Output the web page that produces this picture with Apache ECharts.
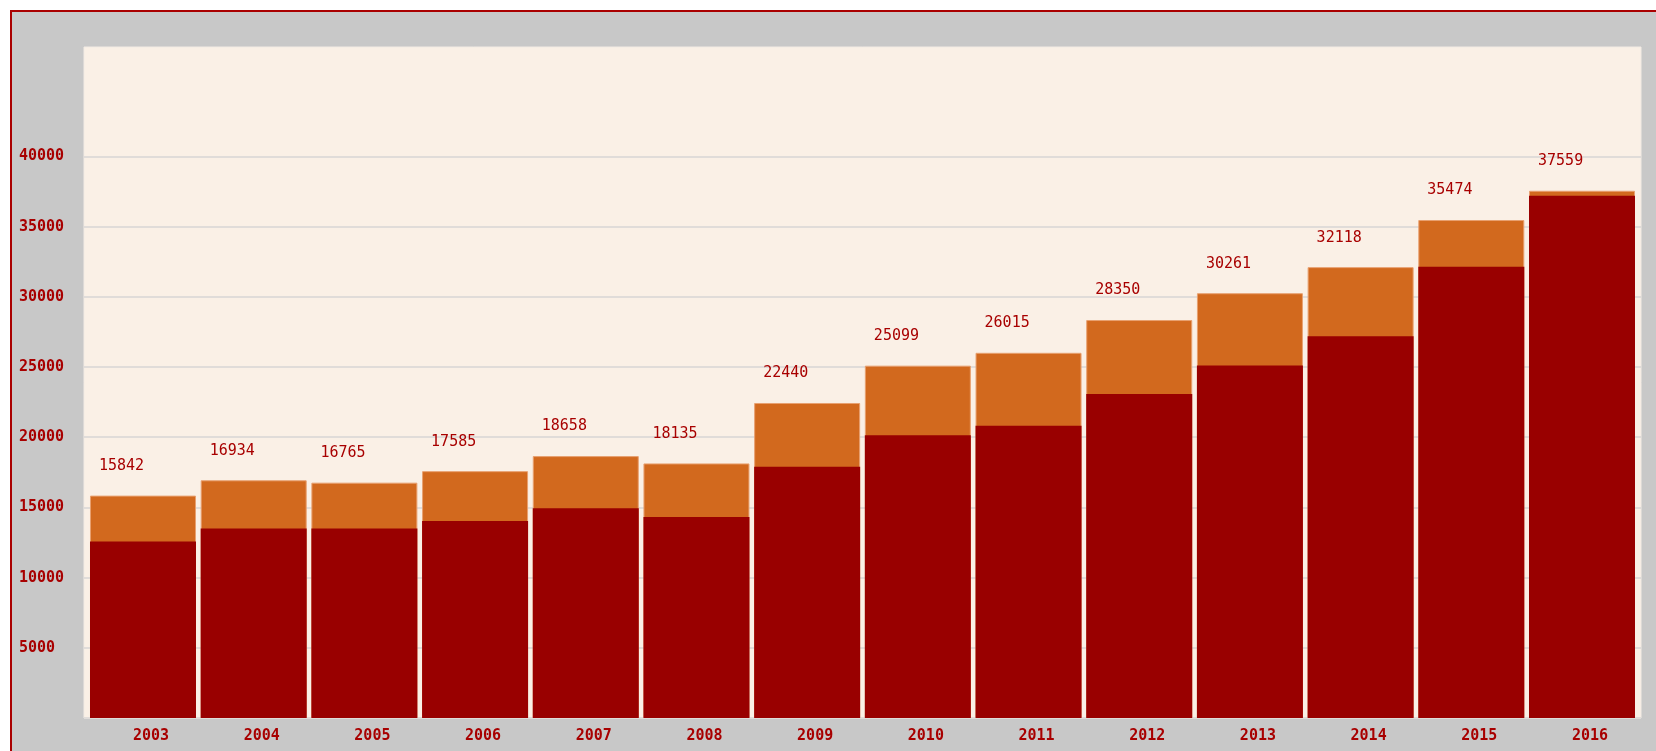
<!DOCTYPE html>
<html>
<head>
<meta charset="utf-8">
<title>Chart</title>
<script src="https://cdn.jsdelivr.net/npm/echarts@6/dist/echarts.min.js"></script>
<style>
  html, body { margin: 0; padding: 0; background: #ffffff; overflow: hidden; }
  #main {
    position: absolute; left: 10px; top: 10px;
    width: 1644px; height: 739px;
    border-left: 2px solid #aa0000; border-top: 2px solid #aa0000;
    background: #c8c8c8;
  }
</style>
</head>
<body>
<div id="main"></div>
<script>
// years on the x axis
var years = ['2003', '2004', '2005', '2006', '2007', '2008', '2009',
             '2010', '2011', '2012', '2013', '2014', '2015', '2016'];
// total (orange bar, labelled)
var totals = [15842, 16934, 16765, 17585, 18658, 18135, 22440,
              25099, 26015, 28350, 30261, 32118, 35474, 37559];
// inner part (dark red bar, drawn over the total)
var inner = [12570, 13500, 13500, 14040, 14950, 14310, 17900,
             20150, 20820, 23080, 25110, 27200, 32140, 37200];

var yMax = 47800;      // top of the cream area
var yTickMax = 40000;  // highest ruled line
var yStep = 5000;
var textRed = '#a80000';
var monoFont = '"DejaVu Sans Mono", "Liberation Mono", monospace';

function drawChart() {
  var chartDom = document.getElementById('main');
  var myChart = echarts.init(chartDom);
  var option;
  var plotTop = 35, plotH = 671;
  // the ruled part only goes up to 40000
  var ruleTop = plotTop + plotH * (yMax - yTickMax) / yMax;
  option = {
    animation: false,
    grid: [
      // cream plotting area
      { left: 72, top: plotTop, width: 1557, height: plotH, show: true,
        backgroundColor: '#faf0e6', borderColor: '#f2ebe4', borderWidth: 1 },
      // bars sit a little inside it
      { left: 75.65, top: plotTop, width: 1549.7, height: plotH },
      // ruled lines + value labels
      { left: 72, top: ruleTop, width: 1557, height: plotTop + plotH - ruleTop }
    ],
    xAxis: [
      { gridIndex: 0, type: 'category', data: years, show: false },
      {
        gridIndex: 1, type: 'category', data: years,
        axisLine: { show: false }, axisTick: { show: false },
        axisLabel: {
          color: textRed, fontFamily: monoFont, fontSize: 15, fontWeight: 'bold',
          margin: 11, padding: [0, 0, 0, 16]
        }
      },
      { gridIndex: 2, type: 'category', data: years, show: false }
    ],
    yAxis: [
      { gridIndex: 0, type: 'value', min: 0, max: yMax, show: false, splitLine: { show: false } },
      { gridIndex: 1, type: 'value', min: 0, max: yMax, show: false, splitLine: { show: false } },
      {
        gridIndex: 2, type: 'value', min: 0, max: yTickMax, interval: yStep,
        axisLine: { show: false }, axisTick: { show: false },
        splitLine: { lineStyle: { color: '#e0dcd9', width: 2 } },
        axisLabel: {
          color: textRed, fontFamily: monoFont, fontSize: 15, fontWeight: 'bold',
          align: 'left', margin: 65,
          formatter: function (v) { return v > 0 ? String(v) : ''; }
        }
      }
    ],
    series: [
      {
        type: 'bar', xAxisIndex: 1, yAxisIndex: 1, z: 3,
        data: totals, barWidth: 106, barGap: '-100%',
        itemStyle: { color: '#d2691e', borderColor: '#e8a070', borderWidth: 1 },
        label: {
          show: true, position: [9, -37], formatter: '{c}',
          color: textRed, fontFamily: monoFont, fontSize: 15
        }
      },
      {
        type: 'bar', xAxisIndex: 1, yAxisIndex: 1, z: 3,
        data: inner, barWidth: 106, barGap: '-100%',
        itemStyle: { color: '#990000' }
      }
    ]
  };

  option && myChart.setOption(option);
}
drawChart();
</script>
</body>
</html>
